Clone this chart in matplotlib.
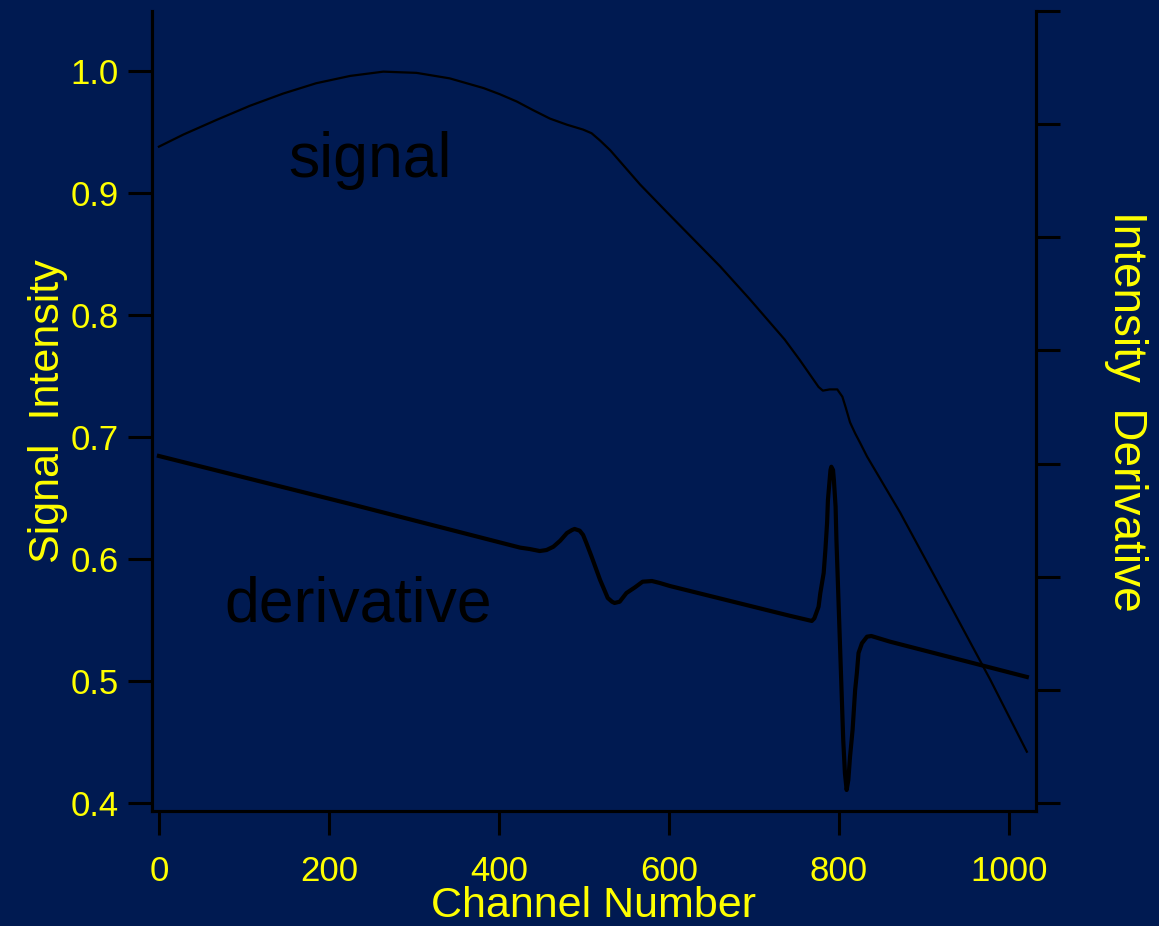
import matplotlib.pyplot as plt

plt.rcParams['font.family'] = ['Liberation Sans', 'DejaVu Sans']

# signal curve (channel, intensity)
sig_ch = [0, 29, 68, 107, 146, 185, 225, 264, 303, 342, 382, 401, 421, 440, 460,
          480, 499, 509, 519, 531, 551, 566, 598, 660, 695, 736, 754, 766, 776,
          781, 789, 798, 804, 808, 813, 819, 825, 833, 872, 931, 978, 1021]
sig_val = [0.938, 0.948, 0.960, 0.9715, 0.9815, 0.990, 0.996, 0.9995, 0.9985, 0.994,
           0.986, 0.981, 0.975, 0.968, 0.961, 0.956, 0.952, 0.949, 0.943, 0.935,
           0.919, 0.907, 0.884, 0.840, 0.813, 0.780, 0.763, 0.751, 0.741, 0.738,
           0.739, 0.739, 0.733, 0.724, 0.712, 0.703, 0.695, 0.684, 0.638, 0.562,
           0.501, 0.442]

# derivative curve (channel, arbitrary units on right axis)
der_ch = [0, 225, 425, 436, 448, 456, 464, 472, 480, 486, 489, 495, 499, 503, 509,
          514, 519, 524, 528, 533, 536, 542, 550, 560, 569, 580, 589, 601, 742,
          768, 771, 776, 778, 782, 784, 786, 787, 789, 790, 791, 793, 794, 796,
          797, 799, 801, 803, 805, 807, 809, 811, 813, 816, 819, 821, 823, 827,
          833, 838, 860, 1021]
der_val = [3.067, 2.643, 2.257, 2.245, 2.227, 2.236, 2.265, 2.318, 2.386, 2.413,
           2.422, 2.407, 2.369, 2.295, 2.177, 2.074, 1.971, 1.883, 1.812, 1.779,
           1.768, 1.779, 1.856, 1.906, 1.956, 1.962, 1.945, 1.918, 1.655, 1.609,
           1.632, 1.735, 1.853, 2.033, 2.236, 2.475, 2.678, 2.855, 2.943, 2.972,
           2.943, 2.855, 2.619, 2.325, 1.883, 1.441, 0.999, 0.557, 0.263, 0.115,
           0.203, 0.409, 0.645, 0.999, 1.146, 1.326, 1.412, 1.470, 1.476, 1.426,
           1.114]

left_ticks = [0.4, 0.5, 0.6, 0.7, 0.8, 0.9, 1.0]
right_ticks = [0, 1, 2, 3, 4, 5, 6, 7]
x_ticks = [0, 200, 400, 600, 800, 1000]

bg = '#001a51'
yellow = '#ffff00'

fig = plt.figure(figsize=(11.59, 9.26), dpi=100, facecolor=bg)
ax = fig.add_axes([0.1311, 0.1242, 0.7628, 0.8639])
ax.set_facecolor(bg)
ax2 = ax.twinx()

ax.plot(sig_ch, sig_val, color='black', lw=1.6, solid_joinstyle='round')
ax2.plot(der_ch, der_val, color='black', lw=3.0, solid_joinstyle='round')

ax.set_xlim(-8.2, 1031.8)
ax.set_ylim(0.3934, 1.0492)
ax2.set_ylim(-0.0707, 7.0)

ax.set_xticks(x_ticks)
ax.set_yticks(left_ticks)
ax.set_yticklabels([f'{v:.1f}' for v in left_ticks])
ax2.set_yticks(right_ticks)
ax2.set_yticklabels([])

for a in (ax, ax2):
    for s in a.spines.values():
        s.set_color('black')
        s.set_linewidth(2.2)
    a.spines['top'].set_visible(False)

ax.tick_params(axis='both', colors='black', labelcolor=yellow, width=2.2,
               length=17, labelsize=25)
ax.tick_params(axis='x', pad=15)
ax.tick_params(axis='y', pad=7)
ax2.tick_params(axis='y', colors='black', width=2.2, length=17)

ax.set_xlabel('Channel Number', color=yellow, fontsize=31, labelpad=-2)
ax.set_ylabel('Signal  Intensity', color=yellow, fontsize=31, labelpad=2)
ax2.set_ylabel('Intensity  Derivative', color=yellow, fontsize=33,
               rotation=270, labelpad=60)

ax.text(248, 0.927, 'signal', color='black', fontsize=45, ha='center', va='center')
ax.text(234, 0.562, 'derivative', color='black', fontsize=45, ha='center', va='center')

fig.savefig('out.png', dpi=100, facecolor=bg)
